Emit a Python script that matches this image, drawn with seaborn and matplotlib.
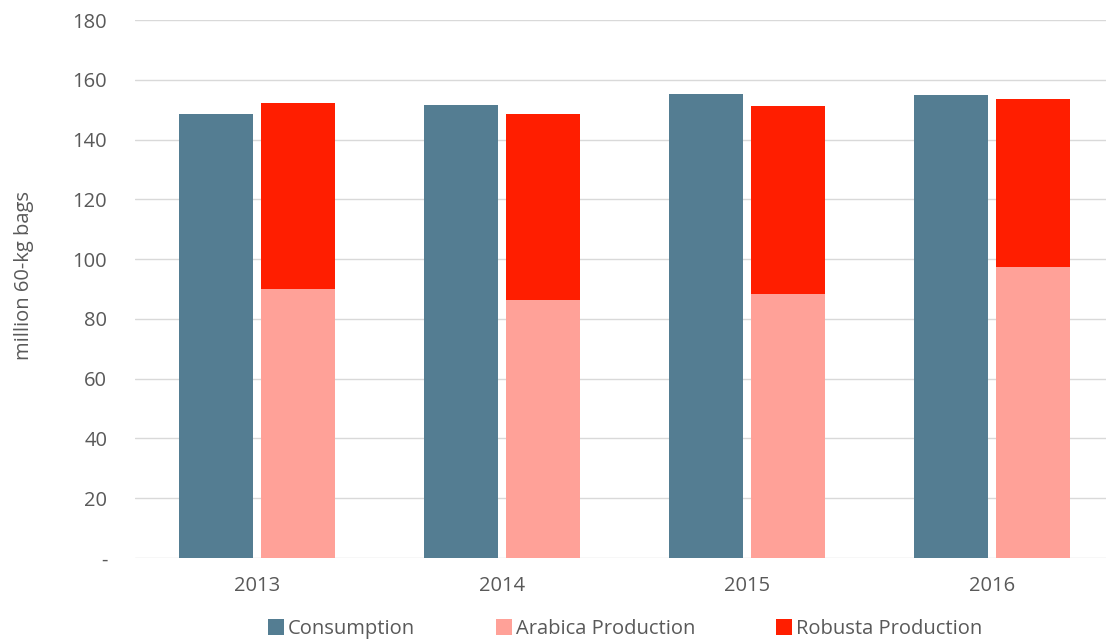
import matplotlib
matplotlib.use("Agg")
import matplotlib.pyplot as plt
import seaborn as sns
import pandas as pd
from matplotlib.patches import Patch

years = ["2013", "2014", "2015", "2016"]
consumption = [148.7, 151.7, 155.2, 154.8]
arabica = [90.0, 86.2, 88.2, 97.2]
robusta = [62.1, 62.3, 63.0, 56.4]
y_ticks = [0, 20, 40, 60, 80, 100, 120, 140, 160, 180]
y_tick_labels = ["-", "20", "40", "60", "80", "100", "120", "140", "160", "180"]
series_names = ["Consumption", "Arabica Production", "Robusta Production"]

c_cons = "#547D92"
c_arab = "#FFA198"
c_rob = "#FF1E00"
grid_c = "#D9D9D9"
text_c = "#595959"

sns.set_theme(style="white")
plt.rcParams["font.family"] = ["Open Sans", "DejaVu Sans"]

prod_total = [a + r for a, r in zip(arabica, robusta)]

df_top = pd.DataFrame({
    "year": years * 2,
    "group": ["C"] * 4 + ["P"] * 4,
    "value": consumption + prod_total,
})
df_bot = pd.DataFrame({
    "year": years * 2,
    "group": ["C"] * 4 + ["P"] * 4,
    "value": consumption + arabica,
})

fig = plt.figure(figsize=(11.06, 6.43), dpi=100)
ax = fig.add_axes([135 / 1106, (643 - 558) / 643, 979 / 1106, 538 / 643])

for y in y_ticks:
    ax.axhline(y, color=grid_c, lw=1.0, zorder=0)

sns.barplot(data=df_top, x="year", y="value", hue="group", hue_order=["C", "P"],
            palette=[c_cons, c_rob], width=0.67, gap=0.1, dodge=True,
            errorbar=None, saturation=1, ax=ax, legend=False, zorder=2,
            linewidth=0, edgecolor="none")
sns.barplot(data=df_bot, x="year", y="value", hue="group", hue_order=["C", "P"],
            palette=[c_cons, c_arab], width=0.67, gap=0.1, dodge=True,
            errorbar=None, saturation=1, ax=ax, legend=False, zorder=3,
            linewidth=0, edgecolor="none")

ax.set_xlim(-0.5, 3.5)
ax.set_ylim(0, 180)
ax.set_yticks(y_ticks)
ax.set_yticklabels(y_tick_labels)
for s in ax.spines.values():
    s.set_visible(False)
ax.tick_params(axis="both", length=0, labelsize=14.5, colors=text_c)
ax.tick_params(axis="y", pad=20)
ax.tick_params(axis="x", pad=13)
ax.set_xlabel("")
ax.set_ylabel("million 60-kg bags", fontsize=14.5, color=text_c)
ax.yaxis.set_label_coords(-0.103, 0.526)

handles = [Patch(facecolor=c, edgecolor="none") for c in (c_cons, c_arab, c_rob)]
leg = fig.legend(handles, series_names, loc="center", bbox_to_anchor=(0.565, 0.022),
                 ncol=3, frameon=False, fontsize=14.5, handlelength=0.8, handleheight=0.8,
                 handletextpad=0.2, columnspacing=4.0)
for t in leg.get_texts():
    t.set_color(text_c)

fig.savefig("out.png", dpi=100)
